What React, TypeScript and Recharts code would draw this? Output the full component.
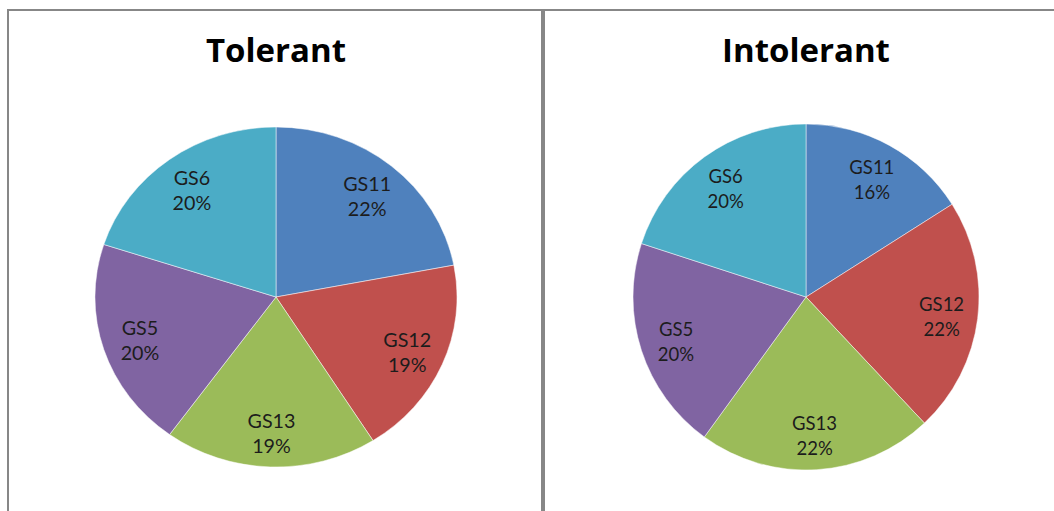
import { Cell, Pie, PieChart } from "recharts";

const groups = ["GS11", "GS12", "GS13", "GS5", "GS6"];
const tolerant = [22, 19, 19, 20, 20];
const intolerant = [16, 22, 22, 20, 20];
const sliceColors = ["#4F81BD", "#C0504D", "#9BBB59", "#8064A2", "#4BACC6"];

const FONT = "Lato, 'Open Sans', sans-serif";
const TITLE_FONT = "'Open Sans', Lato, sans-serif";
const RULE = "#878787";
const RAD = Math.PI / 180;

// two-line "name / pct" label sitting inside the slice
function SliceLabel(props: any) {
  const { cx, cy, midAngle, outerRadius, name, value } = props;
  const r = outerRadius * 0.79;
  const x = cx + r * Math.cos(-midAngle * RAD);
  const y = cy + r * Math.sin(-midAngle * RAD);
  return (
    <text x={x} y={y} textAnchor="middle" fill="#1c1c1c" fontSize={18.5} fontFamily={FONT}>
      <tspan x={x} dy={-3}>
        {name}
      </tspan>
      <tspan x={x} dy={25}>
        {value}%
      </tspan>
    </text>
  );
}

interface PanelProps {
  title: string;
  values: number[];
  left: number;
  width: number;
  cx: number;
  radius: number;
  stretch?: number;
}

function PiePanel({ title, values, left, width, cx, radius, stretch = 1 }: PanelProps) {
  const data = groups.map((g, i) => ({ name: g, value: values[i] }));
  return (
    <div style={{ position: "absolute", left, top: 0, width, height: 511 }}>
      <div
        style={{
          position: "absolute",
          left: cx - 150,
          width: 300,
          top: 33,
          textAlign: "center",
          fontFamily: TITLE_FONT,
          fontWeight: 700,
          fontSize: 33,
          lineHeight: "33px",
          color: "#000",
        }}
      >
        {title}
      </div>
      <div style={{ transform: `scaleX(${stretch})`, transformOrigin: `${cx}px 0` }}>
        <PieChart width={width} height={511} margin={{ top: 0, right: 0, bottom: 0, left: 0 }}>
          <Pie
            data={data}
            dataKey="value"
            nameKey="name"
            cx={cx}
            cy={297}
            outerRadius={radius}
            startAngle={90}
            endAngle={-270}
            stroke="#ffffff"
            strokeWidth={0.8}
            strokeOpacity={0.6}
            label={SliceLabel}
            labelLine={false}
            isAnimationActive={false}
          >
            {data.map((d, i) => (
              <Cell key={d.name} fill={sliceColors[i]} />
            ))}
          </Pie>
        </PieChart>
      </div>
    </div>
  );
}

export default function App() {
  return (
    <div
      style={{
        position: "absolute",
        left: 0,
        top: 0,
        width: 1054,
        height: 511,
        background: "#fff",
        overflow: "hidden",
      }}
    >
      <PiePanel title="Tolerant" values={tolerant} left={9} width={532} cx={267} radius={170} stretch={1.065} />
      <PiePanel title="Intolerant" values={intolerant} left={545} width={509} cx={261} radius={173} />

      {/* frame rules */}
      <div style={{ position: "absolute", left: 7, top: 9, width: 1047, height: 2, background: RULE }} />
      <div style={{ position: "absolute", left: 7, top: 9, width: 2, height: 502, background: RULE }} />
      <div style={{ position: "absolute", left: 541, top: 9, width: 4, height: 502, background: RULE }} />
    </div>
  );
}
